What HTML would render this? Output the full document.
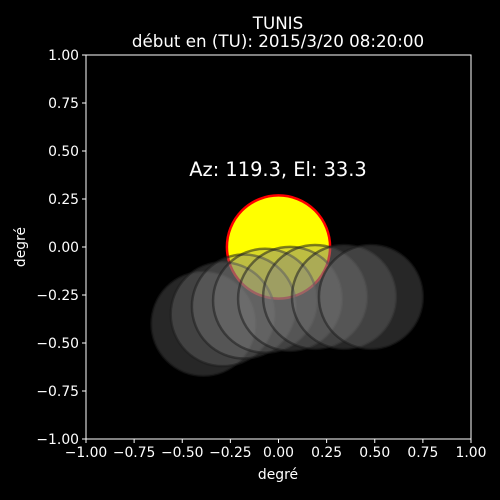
<!DOCTYPE html>
<html><head><meta charset="utf-8"><style>
html,body{margin:0;padding:0;background:#000;overflow:hidden;width:500px;height:500px;}
svg{display:block;}
svg text{font-family:"DejaVu Sans","Liberation Sans",sans-serif;fill:#fff;}
</style></head><body>
<svg id="c" width="500" height="500" xmlns="http://www.w3.org/2000/svg">
<rect width="500" height="500" fill="#000"/>
<text x="278" y="29" font-size="16.7" text-anchor="middle">TUNIS</text>
<text x="278" y="47" font-size="16.7" text-anchor="middle">début en (TU): 2015/3/20 08:20:00</text>
<g id="marks"></g>
<text x="278" y="176" font-size="19.4" text-anchor="middle">Az: 119.3, El: 33.3</text>
<rect x="86" y="55" width="385" height="384" fill="none" stroke="#fff" stroke-width="1"/>
<g id="axes"></g>
<text x="278" y="479" font-size="13.9" text-anchor="middle">degré</text>
<text x="25" y="247" font-size="13.9" text-anchor="middle" transform="rotate(-90 25 247)">degré</text>
</svg>
<script>
const ticks=[-1,-0.75,-0.5,-0.25,0,0.25,0.5,0.75,1];
const tickLabels=["−1.00","−0.75","−0.50","−0.25","0.00","0.25","0.50","0.75","1.00"];
const sunX=[0], sunY=[0], sunR=[0.268];
const moonX=[-0.39,-0.29,-0.18,-0.07,0.06,0.19,0.34,0.48];
const moonY=[-0.40,-0.35,-0.31,-0.28,-0.27,-0.26,-0.26,-0.26];
const moonR=0.27;
const X0=86,X1=471,Y0=439,Y1=55;
const sx=v=>X0+(v+1)/2*(X1-X0);
const sy=v=>Y0-(v+1)/2*(Y0-Y1);
const NS="http://www.w3.org/2000/svg";
const m=document.getElementById('marks'), ax=document.getElementById('axes');
function mk(t,a,p){const e=document.createElementNS(NS,t);for(const k in a)e.setAttribute(k,a[k]);p.appendChild(e);return e;}
sunX.forEach((v,i)=>{
 const c=mk('circle',{cx:sx(v),cy:sy(sunY[i]),r:sunR[i]*(X1-X0)/2,fill:'#ffff00',stroke:'#ff0000','stroke-width':2.5},m);
 
 
});
moonX.forEach((v,i)=>{
 const c=mk('circle',{cx:sx(v),cy:sy(moonY[i]),r:moonR*(X1-X0)/2,fill:'rgba(128,128,128,0.3)',stroke:'rgba(30,30,30,0.55)','stroke-width':2.5},m);
 
 
});
ticks.forEach((t,i)=>{
 const x=sx(t),y=sy(t);
 const a=mk('line',{x1:x,x2:x,y1:Y0,y2:Y0+4,stroke:'#fff'},ax);
 
 
 const b=mk('text',{x:x,y:Y0+18,'font-size':13.9,'text-anchor':'middle'},ax);b.textContent=tickLabels[i];
 
 
 const c=mk('line',{x1:X0-4,x2:X0,y1:y,y2:y,stroke:'#fff'},ax);
 
 
 const d=mk('text',{x:X0-7,y:y+5,'font-size':13.9,'text-anchor':'end'},ax);d.textContent=tickLabels[i];
 
 
});
</script>
</body></html>
